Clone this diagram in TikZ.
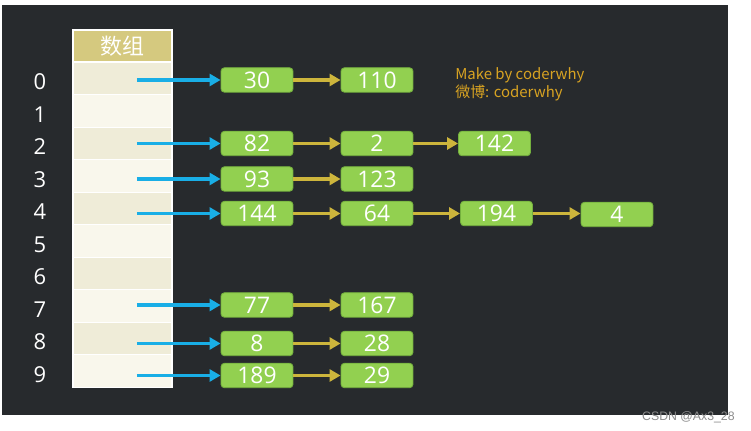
\documentclass[tikz,border=0pt]{standalone}
\usepackage{fontspec}
\setmainfont{Open Sans}
\newfontfamily\cjk{Noto Sans CJK SC}
\newfontfamily\wmfont{Liberation Sans}
\usepackage{xcolor}
\usetikzlibrary{arrows.meta}

\definecolor{bgdark}{HTML}{272A2D}
\definecolor{headfill}{HTML}{D5C97F}
\definecolor{cellA}{HTML}{EFECD8}
\definecolor{cellB}{HTML}{F9F7EC}
\definecolor{nodegreen}{HTML}{92D050}
\definecolor{nodeedge}{HTML}{74B03E}
\definecolor{ptrblue}{HTML}{19AEE6}
\definecolor{nextgold}{HTML}{CDB53C}
\definecolor{signgold}{HTML}{D8A322}

\begin{document}
\begin{tikzpicture}[
  x=0.02cm, y=-0.02cm,
  font=\fontsize{13}{15}\selectfont,
  cell/.style={draw=white, line width=0.6pt, minimum width=1.98cm, minimum height=0.65cm, inner sep=0pt},
  celleven/.style={cell, fill=cellA},
  cellodd/.style={cell, fill=cellB},
  idx/.style={text=white, font=\fontsize{12.5}{14}\selectfont},
  item/.style={fill=nodegreen, draw=nodeedge, line width=0.5pt, rounded corners=2pt, minimum width=1.44cm, minimum height=0.49cm, inner sep=0pt, text=white},
  ptr/.style={-{Triangle[length=0.22cm, width=0.24cm]}, line width=2pt, draw=ptrblue, shorten <=0.29cm},
  nxt/.style={-{Triangle[length=0.22cm, width=0.24cm]}, line width=2pt, draw=nextgold},
]
\useasboundingbox (0,0) rectangle (751,431);
\fill[bgdark] (2,5) rectangle (728,415);
% array column
\node[cell, fill=headfill, minimum height=0.64cm, text=white, font=\cjk\fontsize{12.5}{14}\selectfont] (head) at (122.5,46) {数组};
\node[celleven] (cell0) at (122.5,78.5)  {};
\node[cellodd]  (cell1) at (122.5,111)   {};
\node[celleven] (cell2) at (122.5,143.5) {};
\node[cellodd]  (cell3) at (122.5,176)   {};
\node[celleven] (cell4) at (122.5,208.5) {};
\node[cellodd]  (cell5) at (122.5,241)   {};
\node[celleven] (cell6) at (122.5,273.5) {};
\node[cellodd]  (cell7) at (122.5,306)   {};
\node[celleven] (cell8) at (122.5,338.5) {};
\node[cellodd]  (cell9) at (122.5,371)   {};
% indices
\foreach \i in {0,...,9}
  \node[idx] (lbl\i) at (40,0 |- cell\i.center) [yshift=-0.07cm] {\i};
% chains
\node[item] (n30)  at (257,80)    {30};
\node[item] (n110) at (377,80)    {110};
\node[item] (n82)  at (257,143.5) {82};
\node[item] (n2)   at (377,143.5) {2};
\node[item] (n142) at (494.5,143.5) {142};
\node[item] (n93)  at (257,179)   {93};
\node[item] (n123) at (377,179)   {123};
\node[item] (n144) at (257,213.5) {144};
\node[item] (n64)  at (377,213.5) {64};
\node[item] (n194) at (496.5,213.5) {194};
\node[item] (n4)   at (617,214.5) {4};
\node[item] (n77)  at (257,305)   {77};
\node[item] (n167) at (377,305)   {167};
\node[item] (n8)   at (257,343.5) {8};
\node[item] (n28)  at (377,343.5) {28};
\node[item] (n189) at (257,375.5) {189};
\node[item] (n29)  at (377,375.5) {29};
% pointers from the array
\draw[ptr] (cell0.center |- n30) -- (n30);
\draw[ptr] (cell2.center |- n82) -- (n82);
\draw[ptr] (cell3.center |- n93) -- (n93);
\draw[ptr] (cell4.center |- n144) -- (n144);
\draw[ptr] (cell7.center |- n77) -- (n77);
\draw[ptr] (cell8.center |- n8) -- (n8);
\draw[ptr] (cell9.center |- n189) -- (n189);
% next links
\draw[nxt] (n30) -- (n110);
\draw[nxt] (n82) -- (n2);
\draw[nxt] (n2) -- (n142);
\draw[nxt] (n93) -- (n123);
\draw[nxt] (n144) -- (n64);
\draw[nxt] (n64) -- (n194);
\draw[nxt] (n194.east) -- (n194.east -| n4.west);
\draw[nxt] (n77) -- (n167);
\draw[nxt] (n8) -- (n28);
\draw[nxt] (n189) -- (n29);
% signature
\node[anchor=north west, align=left, text=signgold, inner sep=0pt, font=\cjk\fontsize{8.5}{9}\selectfont] (sign) at (455,67) {Make by coderwhy\\微博: coderwhy};
\node[anchor=north east, inner sep=0pt, text=black!45, font=\wmfont\fontsize{7}{8}\selectfont] (mark) at (735,411) {CSDN @Ax3\_28};
\end{tikzpicture}
\end{document}
